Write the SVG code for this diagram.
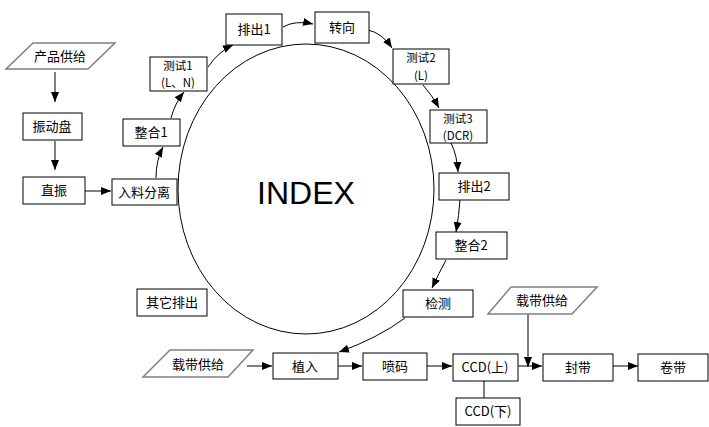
<svg xmlns="http://www.w3.org/2000/svg" width="709" height="427" viewBox="0 0 709 427">
<style>
.b{fill:#fff;stroke:#000;stroke-width:1}
.p{fill:#fff;stroke:#808080;stroke-width:1.5}
.t{font-family:"Noto Sans CJK SC","Liberation Sans",sans-serif;font-size:13px;text-anchor:middle;fill:#000}
.s{font-size:11.5px}
.c{fill:none;stroke:#000;stroke-width:1;marker-end:url(#a)}
</style>
<defs>
<marker id="a" viewBox="0 0 10 10" refX="10" refY="5" markerWidth="10" markerHeight="10" markerUnits="userSpaceOnUse" orient="auto">
<path d="M0,1 L10,5 L0,9 Z" fill="#000"/>
</marker>
</defs>
<rect width="709" height="427" fill="#fff"/>
<g id="index">
<ellipse cx="306" cy="189" rx="128" ry="145" fill="none" stroke="#000" stroke-width="1"/>
<text x="306" y="204" font-family="Liberation Sans,sans-serif" font-size="32" text-anchor="middle">INDEX</text>
</g>
<g id="connectors">
<path class="c" d="M55,72 L55,102"/>
<path class="c" d="M55,141 L55,170"/>
<path class="c" d="M85,191 L111,191"/>
<path class="c" d="M156,178 Q156,160 163,147"/>
<path class="c" d="M171,118 Q175,103 184,92"/>
<path class="c" d="M208,67 Q218,52 233,45"/>
<path class="c" d="M283,27 Q295,20 313,24"/>
<path class="c" d="M368,30 Q382,33 392,48"/>
<path class="c" d="M423,85 Q432,95 439,108"/>
<path class="c" d="M451,143 Q457,155 458,172"/>
<path class="c" d="M460,200 Q459,215 456,232"/>
<path class="c" d="M446,260 Q439,273 432,288"/>
<path class="c" d="M405,318 Q378,338 339,352"/>
<path class="c" d="M247,366 L272,366"/>
<path class="c" d="M338,366 L362,366"/>
<path class="c" d="M427,366 L452,366"/>
<path class="c" d="M518,366 L542,366"/>
<path class="c" d="M528,314 L528,367"/>
<path class="c" d="M613,366 L638,366"/>
<path d="M484,381 L484,398" fill="none" stroke="#000" stroke-width="1"/>
</g>
<g id="n_chanpin"><polygon class="p" points="33,43 115,43 88,69 6,69"/><text class="t" x="60" y="61">产品供给</text></g>
<g id="n_zhendongpan"><rect class="b" x="23" y="113" width="59" height="27"/><text class="t" x="52" y="131">振动盘</text></g>
<g id="n_zhizhen"><rect class="b" x="23" y="177" width="62" height="27"/><text class="t" x="54" y="195">直振</text></g>
<g id="n_ruliao"><rect class="b" x="112" y="179" width="65" height="26"/><text class="t" x="144" y="197">入料分离</text></g>
<g id="n_zhenghe1"><rect class="b" x="123" y="119" width="57" height="27"/><text class="t" x="151" y="137">整合1</text></g>
<g id="n_ceshi1"><rect class="b" x="150" y="57" width="57" height="34"/><text class="t s" x="178" y="70">测试1</text><text class="t s" x="178" y="87">(L、N)</text></g>
<g id="n_paichu1"><rect class="b" x="226" y="14" width="56" height="31"/><text class="t" x="254" y="34">排出1</text></g>
<g id="n_zhuanxiang"><rect class="b" x="315" y="12" width="54" height="31"/><text class="t" x="342" y="32">转向</text></g>
<g id="n_ceshi2"><rect class="b" x="393" y="49" width="56" height="35"/><text class="t s" x="421" y="62">测试2</text><text class="t s" x="421" y="80">(L)</text></g>
<g id="n_ceshi3"><rect class="b" x="430" y="110" width="57" height="33"/><text class="t s" x="458" y="123">测试3</text><text class="t s" x="458" y="140">(DCR)</text></g>
<g id="n_paichu2"><rect class="b" x="439" y="173" width="70" height="27"/><text class="t" x="474" y="191">排出2</text></g>
<g id="n_zhenghe2"><rect class="b" x="436" y="232" width="71" height="27"/><text class="t" x="471" y="250">整合2</text></g>
<g id="n_jiance"><rect class="b" x="403" y="290" width="70" height="27"/><text class="t" x="438" y="308">检测</text></g>
<g id="n_qita"><rect class="b" x="137" y="289" width="70" height="27"/><text class="t" x="172" y="307">其它排出</text></g>
<g id="n_zaidai1"><polygon class="p" points="170,350 253,350 228,377 143,377"/><text class="t" x="198" y="369">载带供给</text></g>
<g id="n_zhiru"><rect class="b" x="273" y="353" width="65" height="26"/><text class="t" x="305" y="371">植入</text></g>
<g id="n_penma"><rect class="b" x="363" y="353" width="64" height="27"/><text class="t" x="395" y="371">喷码</text></g>
<g id="n_ccdup"><rect class="b" x="453" y="354" width="65" height="27"/><text class="t" x="485" y="372">CCD(上)</text></g>
<g id="n_ccddown"><rect class="b" x="456" y="398" width="64" height="27"/><text class="t" x="488" y="416">CCD(下)</text></g>
<g id="n_zaidai2"><polygon class="p" points="511,287 597,287 572,314 488,314"/><text class="t" x="542" y="305">载带供给</text></g>
<g id="n_fengdai"><rect class="b" x="543" y="354" width="70" height="27"/><text class="t" x="578" y="372">封带</text></g>
<g id="n_juandai"><rect class="b" x="638" y="354" width="70" height="27"/><text class="t" x="673" y="372">卷带</text></g>
</svg>
